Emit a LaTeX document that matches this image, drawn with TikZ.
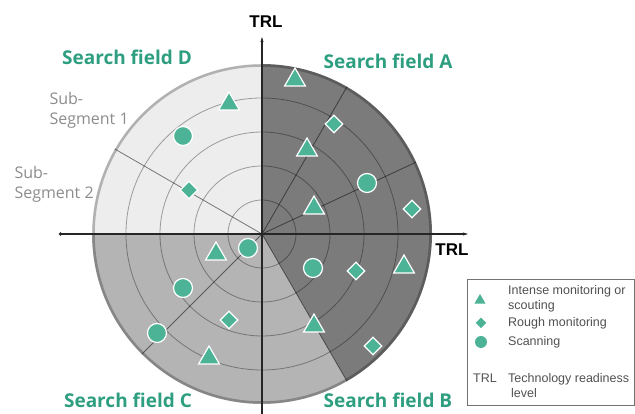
\documentclass[tikz,border=0pt]{standalone}
\usepackage{fontspec}
\setmainfont{Liberation Sans}
\newfontfamily\fieldfont{Open Sans}
\usetikzlibrary{shapes.geometric,arrows.meta}
\definecolor{teal}{HTML}{4DB397}
\definecolor{fieldgreen}{HTML}{2E9E80}
\definecolor{darkseg}{HTML}{7B7B7B}
\definecolor{midseg}{HTML}{B4B4B4}
\definecolor{lightseg}{HTML}{EDEDED}
\definecolor{seggray}{HTML}{8C8C8C}
\definecolor{legendtext}{HTML}{505050}

\begin{document}
\begin{tikzpicture}[x=1pt, y=1pt, >=Stealth, font=\small]
    \tikzstyle{fieldlabel}=[text=fieldgreen, font=\fieldfont\bfseries\fontsize{19}{22}\selectfont]
    \tikzstyle{seglabel}=[text=seggray, align=left, font=\fieldfont\fontsize{16}{20}\selectfont]
    \tikzstyle{ring}=[draw=black, draw opacity=0.35, line width=0.8pt]
    \tikzstyle{spoke}=[draw=black, draw opacity=0.5, line width=0.8pt]
    \tikzstyle{intense}=[regular polygon, regular polygon sides=3, fill=teal, draw=white,
      line width=1.2pt, inner sep=0pt, minimum size=24pt]
    \tikzstyle{rough}=[diamond, fill=teal, draw=white, line width=1.2pt, inner sep=0pt,
      minimum size=18pt]
    \tikzstyle{scan}=[circle, fill=teal, draw=white, line width=1.2pt, inner sep=0pt,
      minimum size=19pt]
    \tikzstyle{legtext}=[anchor=west, align=left, text=legendtext,
      font=\fontsize{12.5}{15}\selectfont, inner sep=0pt]
    \tikzstyle{trl}=[font=\bfseries\fontsize{17}{20}\selectfont]

    \useasboundingbox (-262,-180) rectangle (373,234);

    % search fields
    \fill[lightseg] (0,0) -- (90:170) arc (90:180:170) -- cycle;
    \fill[midseg] (0,0) -- (180:170) arc (180:300:170) -- cycle;
    \fill[darkseg] (0,0) -- (-60:170) arc (-60:90:170) -- cycle;
    \draw[black, draw opacity=0.25, line width=2.5pt] (0,0) circle (168.5);
    \foreach \r in {34,68,102,136}
      \draw[ring] (0,0) circle (\r);
    \foreach \a in {25,60,150,225,300}
      \draw[spoke] (0,0) -- (\a:170);

    % axes
    \coordinate (o) at (0,0);
    \coordinate (xl) at (-203,0);
    \coordinate (xr) at (206,0);
    \coordinate (yb) at (0,-182);
    \coordinate (yt) at (0,197);
    \draw[{Circle[length=3pt]}-{Stealth[length=5pt,width=3pt]}, line width=1.3pt, black!85] (xl) -- (xr);
    \draw[-{Stealth[length=5pt,width=3pt]}, line width=1.3pt, black!85] (yb) -- (yt);
    \node[trl] (trltop) at (4,212) {TRL};
    \node[trl] (trlright) at (190,-16) {TRL};

    % labels
    \node[fieldlabel] (fieldD) at (-135,177) {Search field D};
    \node[fieldlabel] (fieldA) at (126,173) {Search field A};
    \node[fieldlabel] (fieldC) at (-134,-166) {Search field C};
    \node[fieldlabel] (fieldB) at (126,-166) {Search field B};
    \node[seglabel, anchor=west] (sub1) at (-216,124) {Sub-\\Segment 1};
    \node[seglabel, anchor=west] (sub2) at (-251,50) {Sub-\\Segment 2};

    % technologies
    \node[intense] (i1) at (33,154) {};
    \node[intense] (i2) at (-33,130) {};
    \node[intense] (i3) at (45,84) {};
    \node[intense] (i4) at (52,26) {};
    \node[intense] (i5) at (-46,-20) {};
    \node[intense] (i6) at (-53,-124) {};
    \node[intense] (i7) at (142,-33) {};
    \node[intense] (i8) at (52,-92) {};
    \node[rough] (r1) at (72,110) {};
    \node[rough] (r2) at (-73,44) {};
    \node[rough] (r3) at (150,25) {};
    \node[rough] (r4) at (-33,-86) {};
    \node[rough] (r5) at (94,-37) {};
    \node[rough] (r6) at (111,-112) {};
    \node[scan] (s1) at (-79,98) {};
    \node[scan] (s2) at (105,51) {};
    \node[scan] (s3) at (-14,-14) {};
    \node[scan] (s4) at (-79,-54) {};
    \node[scan] (s5) at (-105,-99) {};
    \node[scan] (s6) at (51,-34) {};

    % legend
    \node[draw=black!55, line width=0.8pt, minimum width=167pt, minimum height=126pt,
      inner sep=0pt] (legend) at (288.5,-108) {};
    \node[intense, draw=none, minimum size=13pt] (li) at (218,-66.5) {};
    \node[rough, draw=none, minimum size=11pt] (lr) at (219,-89) {};
    \node[scan, draw=none, minimum size=12pt] (ls) at (219,-108) {};
    \node[legtext] (lti) at (246,-64.5) {Intense monitoring or\\scouting};
    \node[legtext] (ltr) at (246,-89) {Rough monitoring};
    \node[legtext] (lts) at (246,-108) {Scanning};
    \node[legtext] (ltrl) at (211,-144) {TRL};
    \node[legtext] (lttrl) at (246,-151.5) {Technology readiness\\\hspace*{3pt}level};
  \end{tikzpicture}
\end{document}
